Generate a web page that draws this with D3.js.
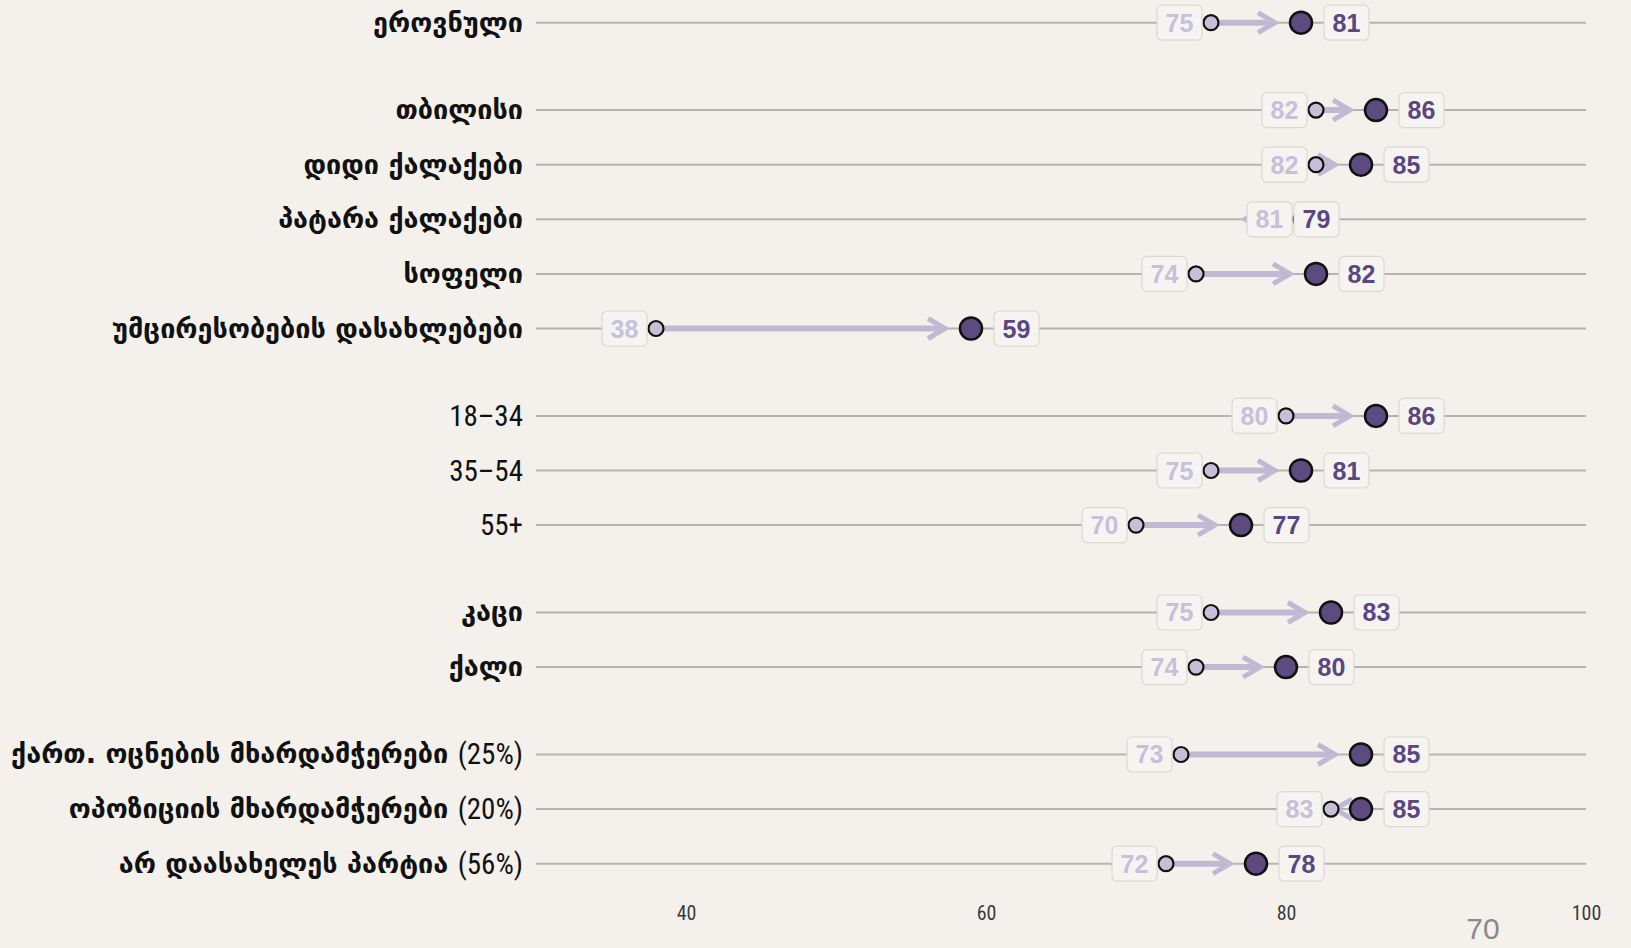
<!DOCTYPE html>
<html>
<head>
<meta charset="utf-8">
<script src="https://cdn.jsdelivr.net/npm/d3@7"></script>
<style>
  html, body { margin: 0; padding: 0; background: #f4f1ec; }
  svg { display: block; }
</style>
</head>
<body>
<svg id="chart" width="1631" height="948"></svg>
<script>
// Row labels, grouped blocks (a blank gap separates each group)
const categories = [
  "ეროვნული",
  "თბილისი", "დიდი ქალაქები", "პატარა ქალაქები", "სოფელი", "უმცირესობების დასახლებები",
  "18–34", "35–54", "55+",
  "კაცი", "ქალი",
  "ქართ. ოცნების მხარდამჭერები (25%)", "ოპოზიციის მხარდამჭერები (20%)", "არ დაასახელეს პარტია (56%)"
];
const groupIndex = [0, 1, 1, 1, 1, 1, 2, 2, 2, 3, 3, 4, 4, 4];
const beforeValues = [75, 82, 82, 81, 74, 38, 80, 75, 70, 75, 74, 73, 83, 72];
const afterValues  = [81, 86, 85, 79, 82, 59, 86, 81, 77, 83, 80, 85, 85, 78];
const tickValues = [40, 60, 80, 100];
const cornerNote = "70";

const W = 1631, H = 948;
const svg = d3.select("#chart");

const groupGap = 0.6;
const rowPos = categories.map((c, i) => i + groupIndex[i] * groupGap);
const lastPos = d3.max(rowPos);

const x = d3.scaleLinear().domain([30, 100]).range([536, 1586]);
const y = d3.scaleLinear().domain([0, lastPos]).range([22.7, 863.7]);

const rows = categories.map((c, i) => ({
  name: c, pos: rowPos[i], before: beforeValues[i], after: afterValues[i]
}));

const colors = {
  grid: "#b6b4b1",
  arrow: "#bfbad3",
  startFill: "#c5c0d8",
  endFill: "#5d4a7f",
  startText: "#c6c0db",
  endText: "#5a4682",
  boxFill: "#f6f4f0",
  boxStroke: "#dcd8d3"
};
const narrowFont = "'Roboto Condensed', 'Liberation Sans Narrow', 'Arial Narrow', sans-serif";

// horizontal guide line per row
svg.append("g").selectAll("line").data(rows).join("line")
  .attr("x1", x(30)).attr("x2", x(100))
  .attr("y1", d => y(d.pos)).attr("y2", d => y(d.pos))
  .attr("stroke", colors.grid).attr("stroke-width", 2);

// row labels: Georgian words in a bold face, digits and symbols in a narrow face
const numericRun = /([0-9()%+–]+)/;
const labels = svg.append("g").selectAll("text").data(rows).join("text")
  .attr("x", x(30) - 13)
  .attr("y", d => y(d.pos) + 9)
  .attr("text-anchor", "end")
  .attr("fill", "#111");
labels.each(function (d) {
  const t = d3.select(this);
  d.name.split(numericRun).filter(s => s.length).forEach(part => {
    const isNum = /^[0-9()%+–]+$/.test(part);
    t.append("tspan")
      .attr("font-family", isNum ? narrowFont : "'DejaVu Sans', sans-serif")
      .attr("font-weight", isNum ? "normal" : "bold")
      .attr("font-size", isNum ? 29 : 27)
      .attr("dy", isNum ? 1 : 0)
      .text(part);
  });
});

// x-axis tick labels
const axis = d3.axisBottom(x).tickValues(tickValues).tickSize(0).tickPadding(0);
const axisG = svg.append("g").attr("transform", "translate(0,906)").call(axis);
axisG.select(".domain").remove();
axisG.selectAll("text")
  .attr("font-family", narrowFont)
  .attr("font-size", 20)
  .attr("fill", "#3a3a3a");

// change arrows: segment from the start point to just short of the end point
const startOffset = 8, endOffset = 26, headLen = 17, headHalf = 10;
const arrowG = svg.append("g");
rows.forEach(d => {
  const yy = y(d.pos);
  const x1 = x(d.before) + startOffset;
  const tip = x(d.after) - endOffset;
  const dir = tip >= x1 ? 1 : -1;
  arrowG.append("line")
    .attr("x1", x1).attr("x2", tip - dir * 3)
    .attr("y1", yy).attr("y2", yy)
    .attr("stroke", colors.arrow).attr("stroke-width", 6);
  arrowG.append("path")
    .attr("d", d3.line()([
      [tip - dir * headLen, yy - headHalf],
      [tip, yy],
      [tip - dir * headLen, yy + headHalf]
    ]))
    .attr("fill", "none")
    .attr("stroke", colors.arrow).attr("stroke-width", 5)
    .attr("stroke-linejoin", "miter");
});

// start and end markers
svg.append("g").selectAll("circle").data(rows).join("circle")
  .attr("cx", d => x(d.before)).attr("cy", d => y(d.pos)).attr("r", 7.5)
  .attr("fill", colors.startFill).attr("stroke", "#111").attr("stroke-width", 2.2);
svg.append("g").selectAll("circle").data(rows).join("circle")
  .attr("cx", d => x(d.after)).attr("cy", d => y(d.pos)).attr("r", 11)
  .attr("fill", colors.endFill).attr("stroke", "#111").attr("stroke-width", 2.5);

// value badges
const boxW = 45, boxH = 35;
function badge(g, cx, cy, value, color) {
  g.append("rect")
    .attr("x", cx - boxW / 2).attr("y", cy - boxH / 2)
    .attr("width", boxW).attr("height", boxH)
    .attr("rx", 5).attr("ry", 5)
    .attr("fill", colors.boxFill).attr("stroke", colors.boxStroke).attr("stroke-width", 1.2);
  g.append("text")
    .attr("x", cx).attr("y", cy).attr("dy", "0.36em")
    .attr("text-anchor", "middle")
    .attr("font-family", "'Liberation Sans', Arial, sans-serif")
    .attr("font-weight", "bold")
    .attr("font-size", 25)
    .attr("fill", color)
    .text(value);
}
const badgeG = svg.append("g");
rows.forEach(d => {
  const yy = y(d.pos);
  badge(badgeG, x(d.before) - 9 - boxW / 2, yy, d.before, colors.startText);
  badge(badgeG, x(d.after) + 23 + boxW / 2, yy, d.after, colors.endText);
});

// loose value shown at the lower right corner
svg.append("text")
  .attr("x", 1483).attr("y", 939)
  .attr("text-anchor", "middle")
  .attr("font-family", "'Liberation Sans', Arial, sans-serif")
  .attr("font-size", 30)
  .attr("fill", "#8a8a8a")
  .text(cornerNote);
</script>
</body>
</html>
